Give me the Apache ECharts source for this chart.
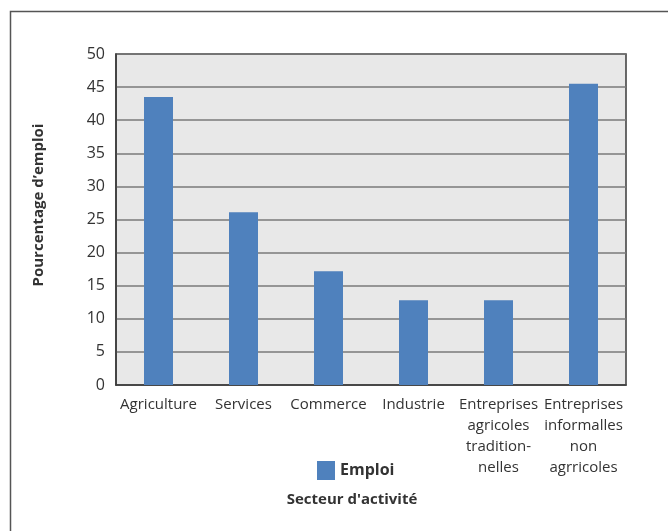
<!DOCTYPE html>
<html><head><meta charset="utf-8">
<script src="https://cdn.jsdelivr.net/npm/echarts@6/dist/echarts.min.js"></script>
<style>html,body{margin:0;padding:0;background:#fff}#c{width:668px;height:531px}</style>
</head><body><div id="c"></div>
<script>
var categories = ["Agriculture", "Services", "Commerce", "Industrie", "Entreprises\nagricoles\ntradition-\nnelles", "Entreprises\ninformalles\nnon\nagrricoles"];
var emploi = [43.5, 26.1, 17.2, 12.8, 12.8, 45.5];
var seriesName = "Emploi";
var xTitle = "Secteur d'activité";
var yTitle = "Pourcentage d’emploi";
var FONT = "Open Sans";
var chart = echarts.init(document.getElementById('c'));
chart.setOption({
  animation: false,
  textStyle: {fontFamily: FONT},
  grid: {left: 116, right: 42, top: 54, bottom: 146, show: true, backgroundColor: '#e8e8e8', borderColor: '#3a3a3a', borderWidth: 1.5},
  legend: {left: 312, top: 456, itemWidth: 18, itemHeight: 19, textStyle: {fontFamily: FONT, fontSize: 16, fontWeight: 'bold', color: '#333'}, data: [{name: seriesName, icon: 'rect'}]},
  xAxis: {type: 'category', data: categories,
    axisLine: {lineStyle: {color: '#3a3a3a', width: 1.5}}, axisTick: {show: false},
    axisLabel: {interval: 0, fontFamily: FONT, fontSize: 15, color: '#333', lineHeight: 21, margin: 9}},
  yAxis: {type: 'value', min: 0, max: 50, interval: 5,
    axisLine: {show: true, lineStyle: {color: '#3a3a3a', width: 1.5}}, axisTick: {show: false},
    splitLine: {lineStyle: {color: '#7a7a7a', width: 1.5}},
    axisLabel: {fontFamily: FONT, fontSize: 16, color: '#333', margin: 11}},
  series: [{name: seriesName, type: 'bar', data: emploi, barWidth: 29, itemStyle: {color: '#4f81bd'}}],
  graphic: [
    {type: 'rect', shape: {x: 10.5, y: 11.5, width: 800, height: 700}, style: {fill: null, stroke: '#555', lineWidth: 1.5}, silent: true, z: -1},
    {type: 'text', x: 352, y: 500, style: {text: xTitle, fontFamily: FONT, fontSize: 15, fontWeight: 'bold', fill: '#333', align: 'center', verticalAlign: 'middle'}},
    {type: 'text', x: 39, y: 205, rotation: Math.PI / 2, style: {text: yTitle, fontFamily: FONT, fontSize: 15, fontWeight: 'bold', fill: '#333', align: 'center', verticalAlign: 'middle'}}
  ]
});
</script></body></html>
